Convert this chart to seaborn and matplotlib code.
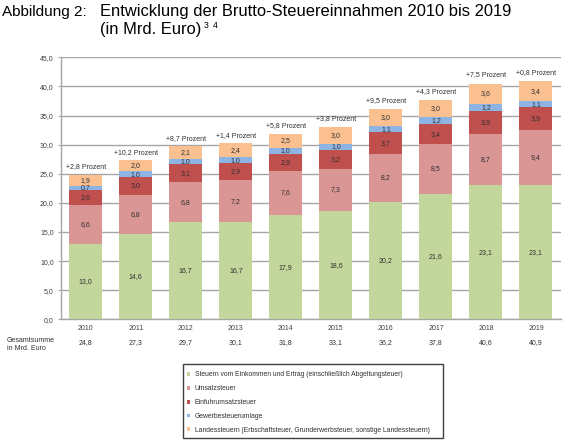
import matplotlib
matplotlib.use("Agg")
import matplotlib.pyplot as plt
import seaborn as sns
import pandas as pd
import numpy as np
from matplotlib.patches import Patch, Rectangle

years = ["2010", "2011", "2012", "2013", "2014", "2015", "2016", "2017", "2018", "2019"]
einkommen = [13.0, 14.6, 16.7, 16.7, 17.9, 18.6, 20.2, 21.6, 23.1, 23.1]
umsatz = [6.6, 6.8, 6.8, 7.2, 7.6, 7.3, 8.2, 8.5, 8.7, 9.4]
einfuhr = [2.6, 3.0, 3.1, 2.9, 2.9, 3.2, 3.7, 3.4, 3.9, 3.9]
gewerbe = [0.7, 1.0, 1.0, 1.0, 1.0, 1.0, 1.1, 1.2, 1.2, 1.1]
landes = [1.9, 2.0, 2.1, 2.4, 2.5, 3.0, 3.0, 3.0, 3.6, 3.4]
totals = [24.8, 27.3, 29.7, 30.1, 31.8, 33.1, 36.2, 37.8, 40.6, 40.9]
changes = ["+2,8", "+10,2", "+8,7", "+1,4", "+5,8", "+3,8", "+9,5", "+4,3", "+7,5", "+0,8"]

series_names = [
    "Steuern vom Einkommen und Ertrag (einschließlich Abgeltungsteuer)",
    "Umsatzsteuer",
    "Einfuhrumsatzsteuer",
    "Gewerbesteuerumlage",
    "Landessteuern (Erbschaftsteuer, Grunderwerbsteuer, sonstige Landessteuern)",
]
series_vals = [einkommen, umsatz, einfuhr, gewerbe, landes]
colors = ["#C3D69B", "#D99694", "#C0504D", "#8EB4E3", "#FAC090"]

sns.set_theme(style="white")
plt.rcParams["font.family"] = ["Liberation Sans", "DejaVu Sans"]

W, H = 565, 445
fig = plt.figure(figsize=(W / 100, H / 100), dpi=100)
ax = fig.add_axes([60.7 / W, 1 - 319.3 / H, (561 - 60.7) / W, (319.3 - 57.3) / H])

df = pd.DataFrame({"year": years})
cum = np.zeros(len(years))
cums = []
for vals in series_vals:
    bottom = cum.copy()
    cum = cum + np.array(vals)
    cums.append((bottom, cum.copy()))

# draw from the full stack down so lower layers overlay
for i in range(len(series_vals) - 1, -1, -1):
    df["top"] = cums[i][1]
    sns.barplot(data=df, x="year", y="top", color=colors[i], saturation=1,
                width=0.66, errorbar=None, linewidth=0, ax=ax, zorder=3)

def fmt(v):
    return f"{v:.1f}".replace(".", ",")

txt_col = "#303030"
for i, vals in enumerate(series_vals):
    bottom, top = cums[i]
    for j, v in enumerate(vals):
        ax.text(j, (bottom[j] + top[j]) / 2, fmt(v), ha="center", va="center",
                fontsize=5, color=txt_col, zorder=5)

for j, c in enumerate(changes):
    ax.text(j, totals[j] + 1.4, f"{c} Prozent", ha="center", va="center",
            fontsize=5, color=txt_col, zorder=5)

ax.set_ylim(0, 45)
ax.set_xlim(-0.5, 9.5)
yt = np.arange(0, 45.1, 5)
ax.set_yticks(yt)
ax.set_yticklabels([fmt(v) for v in yt])
ax.yaxis.grid(True, color="#A6A6A6", linewidth=1.0, zorder=0)
ax.set_axisbelow(True)
ax.tick_params(axis="y", labelsize=5, colors="#404040", length=2, width=0.8,
               direction="out", left=True, color="#A6A6A6", pad=3)
ax.tick_params(axis="x", labelsize=5, colors="#404040", length=0, pad=4)
ax.set_xlabel("")
ax.set_ylabel("")
for s in ["top", "right"]:
    ax.spines[s].set_visible(False)
for s in ["left", "bottom"]:
    ax.spines[s].set_color("#A6A6A6")
    ax.spines[s].set_linewidth(1.0)

# totals row
for j, t in enumerate(totals):
    ax.text(j, -0.087, fmt(t), transform=ax.get_xaxis_transform(), ha="center",
            va="center", fontsize=5, color=txt_col)
fig.text(7 / W, 1 - 340 / H, "Gesamtsumme", fontsize=5, color=txt_col, va="center")
fig.text(7 / W, 1 - 348 / H, "in Mrd. Euro", fontsize=5, color=txt_col, va="center")

# legend: frame drawn separately, entries placed inside
fig.patches.append(Rectangle((183 / W, 1 - 438 / H), 260 / W, 74 / H,
                             transform=fig.transFigure, facecolor="white",
                             edgecolor="#404040", linewidth=1.0, zorder=1))
handles = [Patch(facecolor=c, edgecolor="none") for c in colors]
leg = fig.legend(handles, series_names, loc="upper left",
                 bbox_to_anchor=(187 / W, 1 - 371.5 / H), fontsize=4.9,
                 frameon=False, handlelength=0.45, handleheight=0.45,
                 handletextpad=0.7, labelspacing=1.0, borderpad=0,
                 borderaxespad=0, labelcolor=txt_col)
leg.set_zorder(2)

# title
tfs = 11.9
fig.text(2.5 / W, 1 - 15.7 / H, "Abbildung 2:", fontsize=11.0, va="baseline", color="black")
fig.text(100 / W, 1 - 15.7 / H, "Entwicklung der Brutto-Steuereinnahmen 2010 bis 2019",
         fontsize=tfs, va="baseline", color="black")
t2 = fig.text(100 / W, 1 - 33.7 / H, "(in Mrd. Euro)", fontsize=tfs, va="baseline",
              color="black")
renderer = fig.canvas.get_renderer()
x_end = t2.get_window_extent(renderer).x1  # pixels
fig.text((x_end + 2.5) / W, 1 - 28 / H, "3", fontsize=6.2, va="baseline", color="black")
fig.text((x_end + 12) / W, 1 - 28 / H, "4", fontsize=6.2, va="baseline", color="black")

fig.savefig("out.png", dpi=100)
